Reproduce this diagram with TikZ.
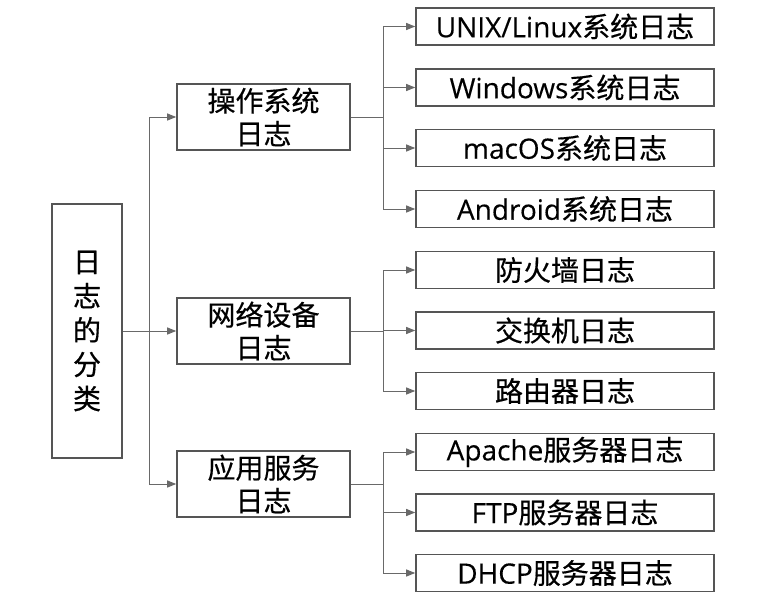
\documentclass[tikz,border=0pt]{standalone}
\usepackage{fontspec}
\setmainfont[FakeBold=0.3]{Open Sans}
\newfontfamily\cjk[FakeBold=0.5]{Noto Sans CJK SC}
\usetikzlibrary{arrows.meta}
\definecolor{boxc}{RGB}{85,85,85}
\definecolor{linec}{RGB}{105,105,105}
\begin{document}
\begin{tikzpicture}[x=1pt,y=-1pt,
  box/.style={draw=boxc,line width=1.6pt,inner sep=0pt,align=center,text=black},
  leaf/.style={box,minimum width=298pt,minimum height=37pt,font=\fontsize{28}{33}\selectfont},
  mid/.style={box,minimum width=173pt,minimum height=66pt,font=\fontsize{28}{33}\cjk},
  rootbox/.style={box,minimum width=70pt,minimum height=254pt,font=\fontsize{28}{34.2}\cjk},
  arr/.style={draw=linec,line width=1pt,-{Triangle[length=9pt,width=7pt]}}]
\useasboundingbox (0,0) rectangle (758,603);
\node[rootbox] (root) at (87,331) {日\\志\\的\\分\\类};
\node[mid] (m1) at (263.5,117) {操作系统\\日志};
\node[mid] (m2) at (263.5,331) {网络设备\\日志};
\node[mid] (m3) at (263.5,484) {应用服务\\日志};
\node[leaf] (l1) at (565,26.5) {UNIX/Linux{\cjk 系统日志}};
\node[leaf] (l2) at (565,87.5) {Windows{\cjk 系统日志}};
\node[leaf] (l3) at (565,148) {macOS{\cjk 系统日志}};
\node[leaf] (l4) at (565,209) {Android{\cjk 系统日志}};
\node[leaf] (l5) at (565,270) {\cjk 防火墙日志};
\node[leaf] (l6) at (565,330.5) {\cjk 交换机日志};
\node[leaf] (l7) at (565,391) {\cjk 路由器日志};
\node[leaf] (l8) at (565,452) {Apache{\cjk 服务器日志}};
\node[leaf] (l9) at (565,512.5) {FTP{\cjk 服务器日志}};
\node[leaf] (l10) at (565,573) {DHCP{\cjk 服务器日志}};
\coordinate (t0) at (149,331);
\draw[arr] (root.east) -- (t0) |- (m1.west);
\draw[arr] (root.east) -- (m2.west);
\draw[arr] (t0) |- (m3.west);
\coordinate (t1) at (383,117);
\coordinate (t2) at (383,331);
\coordinate (t3) at (383,484);
\foreach \l in {l1,l2,l3,l4} \draw[arr] (m1.east) -- (t1) |- (\l.west);
\foreach \l in {l5,l6,l7} \draw[arr] (m2.east) -- (t2) |- (\l.west);
\foreach \l in {l8,l9,l10} \draw[arr] (m3.east) -- (t3) |- (\l.west);
\end{tikzpicture}
\end{document}
